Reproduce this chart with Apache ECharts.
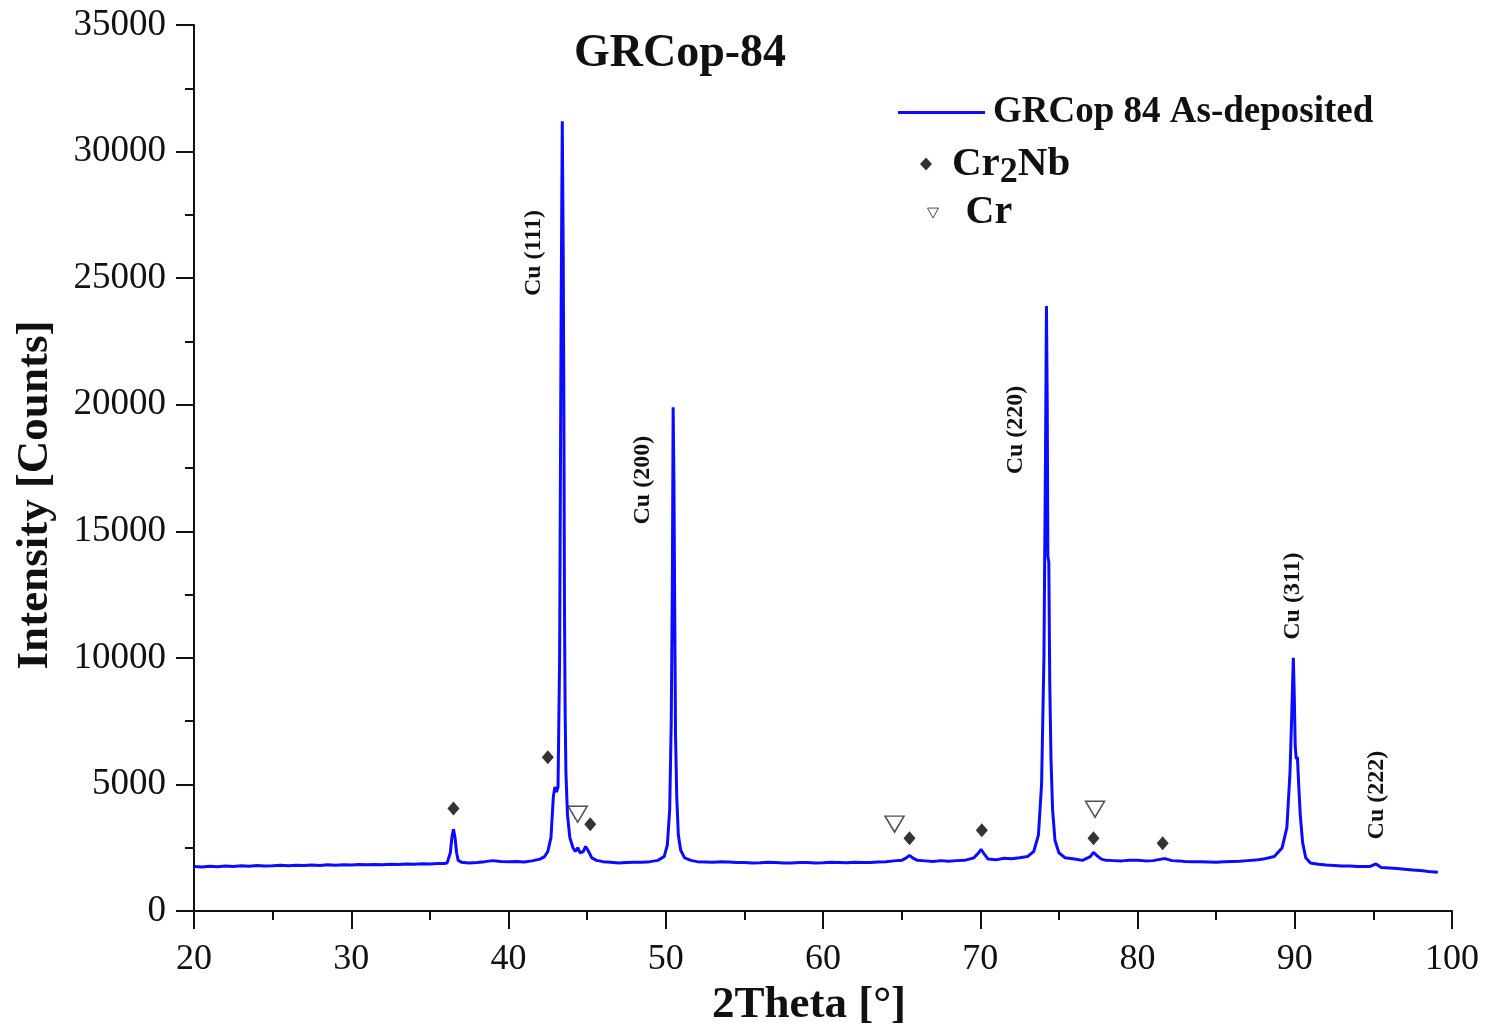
<!DOCTYPE html>
<html><head><meta charset="utf-8">
<script src="https://cdn.jsdelivr.net/npm/echarts@6/dist/echarts.min.js"></script>
<style>html,body{margin:0;padding:0;background:#fff}#c{width:1487px;height:1030px}</style>
</head><body><div id="c"></div>
<script>
// Spectrum (2θ in degrees, intensity in counts)
const twoTheta = [20.0,20.5,21,21.5,22,22.5,23,23.5,24,24.5,25,25.5,26,26.5,27,27.5,28,28.5,29,29.5,30,30.5,31,31.5,32,32.5,33,33.5,34,34.5,35,35.5,35.9,36.1,36.3,36.4,36.5,36.6,36.7,36.8,37.0,37.5,38,38.5,39,39.5,40,40.5,41,41.5,42,42.3,42.5,42.7,42.85,42.95,43.05,43.15,43.25,43.35,43.42,43.48,43.52,43.56,43.6,43.65,43.75,43.9,44.1,44.25,44.4,44.55,44.75,44.9,45.05,45.3,45.6,46,46.5,47,47.5,48,48.5,49,49.5,49.9,50.1,50.25,50.35,50.42,50.47,50.52,50.57,50.62,50.7,50.8,50.95,51.2,51.6,52,52.5,53,53.5,54,54.5,55,55.5,56,56.5,57,57.5,58,58.5,59,59.5,60,60.5,61,61.5,62,62.5,63,63.5,64,64.5,65,65.3,65.5,65.7,66,66.5,67,67.5,68,68.5,69,69.6,69.9,70.05,70.2,70.5,71,71.5,72,72.5,73,73.4,73.7,73.9,74.05,74.15,74.21,74.26,74.3,74.36,74.42,74.5,74.6,74.75,75,75.4,76,76.5,77,77.2,77.4,77.7,78,78.5,79,79.5,80,80.5,81,81.6,81.8,82.2,82.6,83,83.5,84,84.5,85,85.5,86,86.5,87,87.5,88,88.7,89.2,89.5,89.7,89.82,89.91,89.97,90.03,90.1,90.17,90.25,90.35,90.5,90.7,91,91.5,92,92.5,93,93.5,94,94.5,94.8,95.17,95.5,96,96.5,97,97.5,98,98.5,99.1];
const counts   = [1760,1740,1770,1750,1780,1760,1790,1770,1800,1780,1790,1810,1790,1810,1800,1820,1800,1830,1810,1830,1820,1840,1830,1840,1830,1850,1840,1860,1850,1870,1860,1880,1880,1900,2300,2900,3230,2900,2300,2000,1930,1900,1920,1950,1990,1960,1950,1960,1940,1980,2050,2150,2350,2900,4500,4900,4700,4900,10000,24000,31200,26000,20000,12000,8000,5500,3800,2900,2500,2350,2500,2300,2350,2550,2400,2100,2000,1950,1930,1900,1920,1930,1930,1950,2000,2150,2600,4000,7500,13000,19900,17000,12000,7000,4500,3000,2400,2100,2000,1950,1940,1930,1950,1940,1920,1920,1900,1910,1930,1920,1900,1900,1920,1920,1900,1910,1930,1920,1910,1930,1920,1920,1940,1950,1980,2000,2100,2200,2100,2000,1980,1960,1990,1970,1990,2000,2100,2300,2440,2300,2050,2020,2080,2060,2100,2150,2350,3000,5000,10000,18000,23900,20000,14000,13800,9000,6000,4000,2800,2300,2100,2050,2000,2150,2320,2200,2050,2000,1990,1980,2000,2000,1980,1990,2060,2060,1990,1980,1960,1950,1950,1940,1930,1950,1960,1970,1990,2010,2050,2150,2500,3300,5500,8000,10000,8500,6500,6000,6080,5000,3800,2700,2100,1900,1850,1820,1800,1780,1780,1760,1760,1760,1860,1720,1700,1680,1650,1620,1600,1560,1530];

// Phase markers
const cr2nbX = [36.5, 42.5, 45.2, 65.5, 70.1, 77.2, 81.6];
const cr2nbY = [4050, 6070, 3430, 2870, 3190, 2870, 2680];
const crX = [44.4, 64.55, 77.3];
const crY = [3820, 3430, 4020];

// Peak annotations
const peakText = ['Cu (111)', 'Cu (200)', 'Cu (220)', 'Cu (311)', 'Cu (222)'];
const peakX = [41.6, 48.52, 72.23, 89.85, 95.19];
const peakY = [25990, 17020, 19000, 12440, 4580];

// Axis ticks
const xTicks = [20, 30, 40, 50, 60, 70, 80, 90, 100];
const yTicks = [0, 5000, 10000, 15000, 20000, 25000, 30000, 35000];

const FONT = 'Liberation Serif';
const chart = echarts.init(document.getElementById('c'), null, {renderer: 'canvas'});
const triPath = 'path://M0,0 L20,0 L10,18 Z';

chart.setOption({
  animation: false,
  backgroundColor: '#fff',
  title: {
    text: 'GRCop-84', left: 675, top: 26, textAlign: 'center',
    textStyle: {fontFamily: FONT, fontWeight: 'bold', fontSize: 46, color: '#111'}
  },
  legend: [
    {
      left: 898, top: 94, padding: 0, itemWidth: 87, itemHeight: 3,
      data: [{name: 'GRCop 84 As-deposited', icon: 'rect'}],
      formatter: n => '{t|' + n + '}',
      textStyle: {rich: {t: {fontFamily: FONT, fontWeight: 'bold', fontSize: 37, color: '#111', padding: [0,0,0,3], lineHeight: 40}}}
    },
    {
      left: 920, top: 137, padding: 0, itemWidth: 12, itemHeight: 13,
      data: [{name: 'Cr2Nb', icon: 'diamond'}],
      formatter: () => '{g|}{a|Cr}{s|2}{a|Nb}',
      textStyle: {rich: {
        g: {width: 15},
        a: {fontFamily: FONT, fontWeight: 'bold', fontSize: 41, color: '#111', lineHeight: 44},
        s: {fontFamily: FONT, fontWeight: 'bold', fontSize: 36, color: '#111', padding: [18,0,0,0], lineHeight: 44}
      }}
    },
    {
      left: 927, top: 193, padding: 0, itemWidth: 11, itemHeight: 10,
      data: [{name: 'Cr', icon: triPath, itemStyle: {color: '#fff', borderColor: '#222', borderWidth: 1}}],
      formatter: () => '{g|}{a|Cr}',
      textStyle: {rich: {
        g: {width: 22},
        a: {fontFamily: FONT, fontWeight: 'bold', fontSize: 40, color: '#111', lineHeight: 44}
      }}
    }
  ],
  grid: {left: 194, right: 35, top: 25, bottom: 119, containLabel: false, outerBoundsMode: 'none'},
  xAxis: {
    type: 'value', min: xTicks[0], max: xTicks[xTicks.length - 1], interval: 10,
    name: '2Theta [°]', nameLocation: 'middle', nameGap: 72,
    nameTextStyle: {fontFamily: FONT, fontWeight: 'bold', fontSize: 45, color: '#111', padding: [0, 28, 0, 0]},
    axisLine: {show: true, onZero: false, lineStyle: {color: '#111', width: 2}},
    axisTick: {show: true, inside: false, length: 18, lineStyle: {color: '#111', width: 2}},
    minorTick: {show: true, splitNumber: 2, length: 9, lineStyle: {color: '#111', width: 2}},
    axisLabel: {fontFamily: FONT, fontSize: 36, color: '#111', margin: 31, formatter: v => String(v)},
    splitLine: {show: false}
  },
  yAxis: {
    type: 'value', min: yTicks[0], max: yTicks[yTicks.length - 1], interval: 5000,
    name: 'Intensity [Counts]', nameLocation: 'middle', nameGap: 136, nameRotate: 90,
    nameTextStyle: {fontFamily: FONT, fontWeight: 'bold', fontSize: 45, color: '#111', padding: [0, 54, 0, 0]},
    axisLine: {show: true, lineStyle: {color: '#111', width: 2}},
    axisTick: {show: true, inside: false, length: 18, lineStyle: {color: '#111', width: 2}},
    minorTick: {show: true, splitNumber: 2, length: 9, lineStyle: {color: '#111', width: 2}},
    axisLabel: {fontFamily: FONT, fontSize: 37, color: '#111', margin: 28, formatter: v => String(v)},
    splitLine: {show: false}
  },
  series: [
    {
      name: 'GRCop 84 As-deposited', type: 'line', showSymbol: false, symbol: 'none',
      data: twoTheta.map((x, i) => [x, counts[i]]),
      lineStyle: {color: '#0b0bff', width: 3}, itemStyle: {color: '#0b0bff'}, z: 2
    },
    {
      name: 'Cr2Nb', type: 'scatter', symbol: 'diamond', symbolSize: [12, 14],
      data: cr2nbX.map((x, i) => [x, cr2nbY[i]]),
      itemStyle: {color: '#000'}, z: 3
    },
    {
      name: 'Cr', type: 'scatter', symbol: triPath, symbolSize: [19, 16],
      data: crX.map((x, i) => [x, crY[i]]),
      itemStyle: {color: '#fff', borderColor: '#222', borderWidth: 1.5}, z: 3
    },
    {
      name: 'peak labels', type: 'scatter', symbolSize: 0, silent: true,
      data: peakX.map((x, i) => ({value: [x, peakY[i]], name: peakText[i]})),
      itemStyle: {color: '#111', opacity: 1},
      label: {show: true, position: 'inside', rotate: 90, formatter: p => p.name,
        fontFamily: FONT, fontWeight: 'bold', fontSize: 24, color: '#111', opacity: 1,
        textBorderWidth: 0, textShadowBlur: 0},
      emphasis: {disabled: true},
      z: 4
    }
  ]
});
</script>
</body></html>
